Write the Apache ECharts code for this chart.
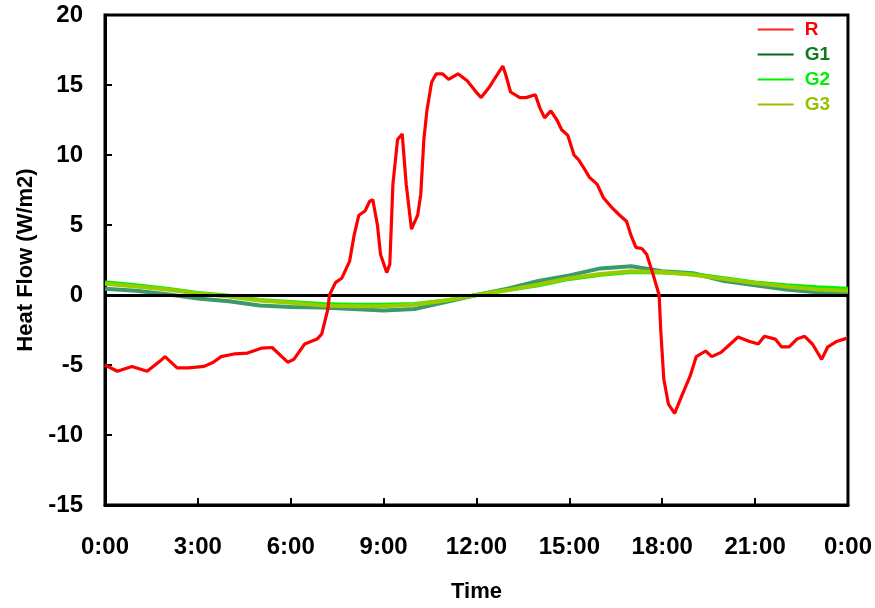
<!DOCTYPE html>
<html>
<head>
<meta charset="utf-8">
<script src="https://cdn.jsdelivr.net/npm/echarts@6/dist/echarts.min.js"></script>
<style>
html,body{margin:0;padding:0;background:#fff;}
#c{width:875px;height:608px;}
</style>
</head>
<body>
<div id="c"></div>
<script>
// Time in hours
var xTicks = [0, 3, 6, 9, 12, 15, 18, 21, 24];
var yTicks = [-15, -10, -5, 0, 5, 10, 15, 20];

var redTimes = [0,0.4,0.87,1.36,1.84,1.94,2.33,2.7,3.2,3.5,3.75,4.2,4.6,5.05,5.4,5.9,6.1,6.45,6.85,7.0,7.2,7.25,7.45,7.65,7.9,8.05,8.2,8.4,8.55,8.65,8.8,8.9,9.1,9.2,9.3,9.45,9.6,9.73,9.9,10.1,10.2,10.3,10.4,10.55,10.7,10.9,11.1,11.4,11.7,11.95,12.15,12.4,12.6,12.85,12.95,13.1,13.4,13.6,13.9,14.05,14.2,14.4,14.6,14.75,14.95,15.15,15.3,15.5,15.65,15.9,16.1,16.35,16.6,16.85,17.0,17.15,17.35,17.5,17.7,17.9,17.95,18.05,18.2,18.4,18.65,18.9,19.1,19.4,19.6,19.9,20.2,20.45,20.8,21.1,21.3,21.65,21.85,22.1,22.35,22.6,22.85,23.15,23.35,23.65,23.95];
var redValues = [-5.0,-5.45,-5.1,-5.45,-4.6,-4.4,-5.2,-5.2,-5.1,-4.8,-4.4,-4.2,-4.15,-3.8,-3.75,-4.8,-4.6,-3.5,-3.15,-2.8,-1.0,0.0,0.9,1.2,2.4,4.3,5.7,6.0,6.7,6.8,5.0,2.9,1.6,2.2,7.9,11.1,11.5,7.9,4.7,5.7,7.2,11.1,13.2,15.2,15.8,15.8,15.4,15.8,15.3,14.6,14.1,14.8,15.5,16.35,15.7,14.5,14.1,14.1,14.3,13.35,12.65,13.15,12.5,11.8,11.4,10.0,9.65,8.95,8.4,7.9,6.95,6.3,5.75,5.25,4.2,3.4,3.3,2.9,1.5,0.0,-2.45,-6.0,-7.8,-8.45,-7.1,-5.8,-4.4,-4.0,-4.4,-4.1,-3.5,-3.0,-3.3,-3.5,-2.95,-3.15,-3.7,-3.7,-3.15,-2.95,-3.5,-4.6,-3.7,-3.3,-3.1];

var greenTimes = [0,1,2,3,4,5,6,7,8,9,10,11,12,13,14,15,16,17,18,19,20,21,22,23,24];
var g1Values = [0.45,0.3,0.05,-0.25,-0.45,-0.75,-0.85,-0.9,-1.0,-1.1,-1.0,-0.5,0.0,0.45,1.0,1.4,1.9,2.05,1.7,1.55,1.0,0.7,0.4,0.2,0.1];
var g2Values = [0.92,0.7,0.45,0.15,-0.05,-0.35,-0.5,-0.65,-0.7,-0.7,-0.65,-0.4,0.0,0.35,0.7,1.15,1.45,1.65,1.6,1.5,1.2,0.9,0.7,0.55,0.45];
var g3Values = [0.8,0.6,0.4,0.1,-0.1,-0.4,-0.55,-0.75,-0.8,-0.8,-0.7,-0.4,0.0,0.35,0.75,1.2,1.5,1.7,1.65,1.45,1.15,0.85,0.6,0.4,0.3];

function pairs(t, v){ return t.map(function(x,i){ return [x, v[i]]; }); }

var FONT = '"Liberation Sans", Arial, sans-serif';
var chart = echarts.init(document.getElementById('c'));
chart.setOption({
  animation: false,
  backgroundColor: '#fff',
  grid: {left: 105, right: 27, top: 15, bottom: 102, show: true, borderColor: '#000', borderWidth: 3, backgroundColor: 'transparent'},
  legend: {
    orient: 'vertical', right: 40, top: 15, itemWidth: 36, itemHeight: 2, itemGap: 6,
    icon: 'rect',
    textStyle: {fontFamily: FONT, fontWeight: 'bold', fontSize: 19, padding: [0, 0, 0, 6]},
    data: [
      {name: 'R', textStyle: {color: '#ff0000'}, itemStyle: {color: '#ff2020'}},
      {name: 'G1', textStyle: {color: '#107a20'}, itemStyle: {color: '#006a1a'}},
      {name: 'G2', textStyle: {color: '#00ee00'}, itemStyle: {color: '#00ee00'}},
      {name: 'G3', textStyle: {color: '#99c000'}, itemStyle: {color: '#99c000'}}
    ]
  },
  xAxis: {
    type: 'value', min: 0, max: 24, interval: 3,
    name: 'Time', nameLocation: 'middle', nameGap: 76,
    nameTextStyle: {fontFamily: FONT, fontWeight: 'bold', fontSize: 22, color: '#000'},
    axisLine: {onZero: false, lineStyle: {color: '#000', width: 3}},
    axisTick: {inside: true, length: 7, lineStyle: {color: '#000', width: 2}},
    axisLabel: {margin: 30, fontFamily: FONT, fontWeight: 'bold', fontSize: 24, color: '#000',
      formatter: function(v){ return (v % 24) + ':00'; }},
    splitLine: {show: false}
  },
  yAxis: {
    type: 'value', min: -15, max: 20, interval: 5,
    name: 'Heat Flow (W/m2)', nameLocation: 'middle', nameGap: 64,
    nameTextStyle: {fontFamily: FONT, fontWeight: 'bold', fontSize: 22, color: '#000'},
    axisLine: {show: true, lineStyle: {color: '#000', width: 3}},
    axisTick: {show: true, inside: true, length: 7, lineStyle: {color: '#000', width: 2}},
    axisLabel: {margin: 22, fontFamily: FONT, fontWeight: 'bold', fontSize: 24, color: '#000'},
    splitLine: {show: false}
  },
  series: [
    {name: 'G1', type: 'line', symbol: 'none', data: pairs(greenTimes, g1Values),
      lineStyle: {color: '#3a9a6a', width: 4}, itemStyle: {color: '#3a9a6a'}, z: 2},
    {name: 'G2', type: 'line', symbol: 'none', data: pairs(greenTimes, g2Values),
      lineStyle: {color: '#00ee00', width: 4}, itemStyle: {color: '#00ee00'}, z: 3},
    {name: 'G3', type: 'line', symbol: 'none', data: pairs(greenTimes, g3Values),
      lineStyle: {color: '#99cc00', width: 4}, itemStyle: {color: '#99cc00'}, z: 4},
    {name: 'R', type: 'line', symbol: 'none', data: pairs(redTimes, redValues),
      lineStyle: {color: '#ff0000', width: 3.2}, itemStyle: {color: '#ff0000'}, z: 5,
      markLine: {silent: true, symbol: 'none', label: {show: false},
        lineStyle: {color: '#000', width: 3, type: 'solid'}, data: [{yAxis: 0}]}}
  ]
});
</script>
</body>
</html>
